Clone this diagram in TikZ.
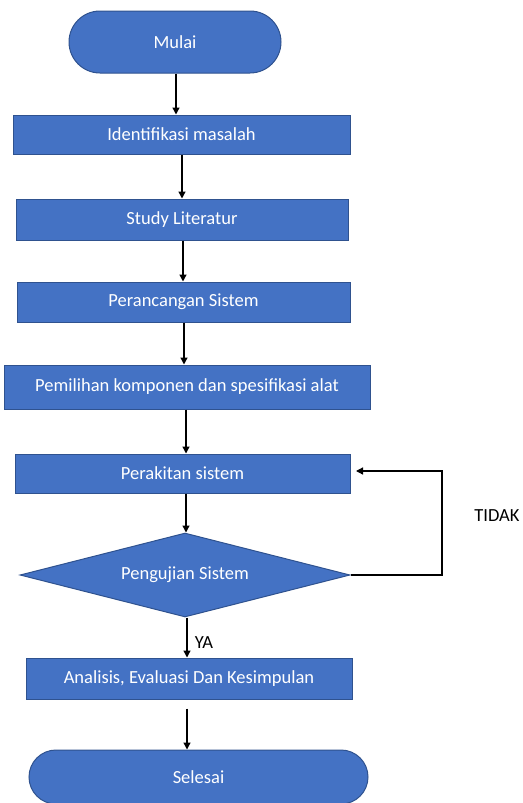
\documentclass[tikz,border=0pt]{standalone}
\usepackage{fontspec}
\setmainfont{Carlito}
\usetikzlibrary{shapes.geometric,shapes.misc,arrows.meta}
\definecolor{boxfill}{HTML}{4472C4}
\definecolor{boxline}{HTML}{2F528F}
\tikzset{
  base/.style={fill=boxfill,draw=boxline,line width=1pt,text=white,font=\fontsize{18.5}{22}\selectfont,inner sep=0pt},
  procbox/.style={base,rectangle},
  termbox/.style={base,rounded rectangle},
  decbox/.style={base,diamond,aspect=3.93},
  arr/.style={draw=black,line width=1.3pt,-{Triangle[length=7pt,width=7pt]}},
  lbl/.style={font=\fontsize{18.5}{22}\selectfont,text=black,inner sep=0pt}
}
\begin{document}
\begin{tikzpicture}[x=1pt,y=-1pt]
\useasboundingbox (0,0) rectangle (522,803);
\node[termbox,minimum width=212,minimum height=62] (mulai) at (175,42) {Mulai};
\node[procbox,minimum width=337,minimum height=39] (ident) at (181.5,134.5) {Identifikasi masalah};
\node[procbox,minimum width=332,minimum height=41] (study) at (182,219.5) {Study Literatur};
\node[procbox,minimum width=333,minimum height=40] (ranc) at (183.5,302) {Perancangan Sistem};
\node[procbox,minimum width=366,minimum height=44] (pilih) at (187,387) {Pemilihan komponen dan spesifikasi alat};
\node[procbox,minimum width=335,minimum height=39] (rakit) at (182.5,473.5) {Perakitan sistem};
\node[decbox,minimum width=330,minimum height=84] (uji) at (185,575) {Pengujian Sistem};
\node[procbox,minimum width=326,minimum height=41] (anal) at (189,678.5) {Analisis, Evaluasi Dan Kesimpulan};
\node[termbox,minimum width=339,minimum height=54] (selesai) at (198.5,777) {Selesai};
\draw[arr] (mulai.south -| 176,0) -- (ident.north -| 176,0);
\draw[arr] (ident.south -| 182,0) -- (study.north -| 182,0);
\draw[arr] (study.south -| 183,0) -- (ranc.north -| 183,0);
\draw[arr] (ranc.south -| 184,0) -- (pilih.north -| 184,0);
\draw[arr] (pilih.south -| 186,0) -- (rakit.north -| 186,0);
\draw[arr] (rakit.south -| 186,0) -- (uji.north -| 186,0);
\draw[arr] (uji.south -| 187,0) -- (anal.north -| 187,0);
\draw[arr] (anal.south -| 187,0) ++(0,9) coordinate (aa) (aa) -- (selesai.north -| 187,0);
\coordinate (fb1) at (442,575);
\coordinate (fb2) at (442,471);
\coordinate (fb3) at (356,471);
\draw[arr] (uji.east) -- (fb1) -- (fb2) -- (fb3);
\node[lbl] (tidak) at (497,516) {TIDAK};
\node[lbl] (ya) at (204,643) {YA};
\end{tikzpicture}
\end{document}
